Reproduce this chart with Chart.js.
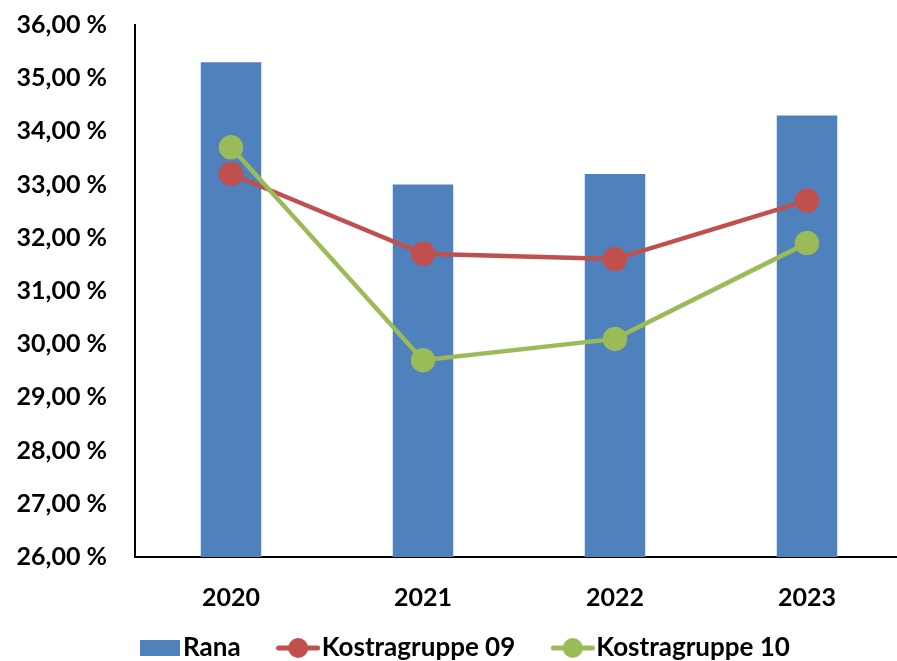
<!DOCTYPE html>
<html>
<head>
<meta charset="utf-8">
<script src="https://cdn.jsdelivr.net/npm/chart.js@4/dist/chart.umd.min.js"></script>
<style>
  html, body { margin: 0; padding: 0; background: #fff; overflow: hidden; }
  #wrap { width: 906px; height: 661px; }
</style>
</head>
<body>
<div id="wrap"><canvas id="c" width="906" height="661"></canvas></div>
<script>
const years = ['2020', '2021', '2022', '2023'];
const rana = [35.3, 33.0, 33.2, 34.3];
const kostra09 = [33.2, 31.7, 31.6, 32.7];
const kostra10 = [33.7, 29.7, 30.1, 31.9];
const seriesNames = ['Rana', 'Kostragruppe 09', 'Kostragruppe 10'];

const BLUE = '#4F81BD', RED = '#C0504D', GREEN = '#9BBB59';
const FONT = 'Lato, "Open Sans", sans-serif';

// legend glyph: short line with a round marker
function lineMarker(color) {
  const cv = document.createElement('canvas');
  cv.width = 44; cv.height = 22;
  const g = cv.getContext('2d');
  g.strokeStyle = color; g.lineWidth = 5; g.lineCap = 'round';
  g.beginPath(); g.moveTo(2.5, 11); g.lineTo(41.5, 11); g.stroke();
  g.fillStyle = color;
  g.beginPath(); g.arc(22, 11, 10, 0, Math.PI * 2); g.fill();
  return cv;
}
function boxMarker(color) {
  const cv = document.createElement('canvas');
  cv.width = 40; cv.height = 16;
  const g = cv.getContext('2d');
  g.fillStyle = color; g.fillRect(0, 0, 40, 16);
  return cv;
}
const legendGlyphs = [boxMarker(BLUE), lineMarker(RED), lineMarker(GREEN)];

// place the legend row slightly right of centre and just under the year labels
const legendShift = {
  id: 'legendShift',
  afterLayout(chart) {
    const lg = chart.legend;
    if (!lg) return;
    const dx = 18, dy = 588 - lg.top;
    lg.left += dx; lg.right += dx;
    lg.top += dy; lg.bottom += dy;
  }
};

new Chart(document.getElementById('c'), {
  data: {
    labels: years,
    datasets: [
      { type: 'bar', label: seriesNames[0], data: rana, backgroundColor: BLUE,
        barPercentage: 1, categoryPercentage: 0.315, order: 3 },
      { type: 'line', label: seriesNames[1], data: kostra09, borderColor: RED, backgroundColor: RED,
        borderWidth: 4.5, pointRadius: 10, pointHoverRadius: 10, pointBackgroundColor: RED,
        pointBorderColor: RED, tension: 0, order: 2 },
      { type: 'line', label: seriesNames[2], data: kostra10, borderColor: GREEN, backgroundColor: GREEN,
        borderWidth: 4.5, pointRadius: 10, pointHoverRadius: 10, pointBackgroundColor: GREEN,
        pointBorderColor: GREEN, tension: 0, order: 1 }
    ]
  },
  plugins: [legendShift],
  options: {
    responsive: false,
    animation: false,
    layout: { autoPadding: false, padding: { top: 25, left: 0, right: 3, bottom: -46 } },
    plugins: {
      tooltip: { enabled: false },
      legend: {
        position: 'bottom',
        labels: {
          usePointStyle: true,
          pointStyleWidth: 21,
          padding: 47,
          color: '#000',
          font: { family: FONT, size: 26, weight: 'bold' },
          generateLabels: (chart) => chart.data.datasets.map((ds, i) => ({
            text: ds.label,
            pointStyle: legendGlyphs[i],
            fillStyle: ds.backgroundColor,
            strokeStyle: ds.borderColor,
            lineWidth: 0,
            hidden: false,
            datasetIndex: i,
            fontColor: '#000'
          }))
        }
      }
    },
    scales: {
      x: {
        grid: { display: false, drawTicks: false },
        border: { display: true, color: '#000', width: 2 },
        afterFit: (s) => { s.height = 67; },
        ticks: { color: '#000', padding: 26, font: { family: FONT, size: 25, weight: 'bold' } }
      },
      y: {
        min: 26, max: 36,
        grid: { display: false, drawTicks: false },
        border: { display: true, color: '#000', width: 2 },
        afterFit: (s) => { s.width = 135; s.paddingTop = 0; s.paddingBottom = 0; },
        ticks: {
          stepSize: 1, color: '#000', padding: 28,
          font: { family: FONT, size: 25, weight: 'bold' },
          callback: (v) => v.toFixed(2).replace('.', ',') + ' %'
        }
      }
    }
  }
});
</script>
</body>
</html>
